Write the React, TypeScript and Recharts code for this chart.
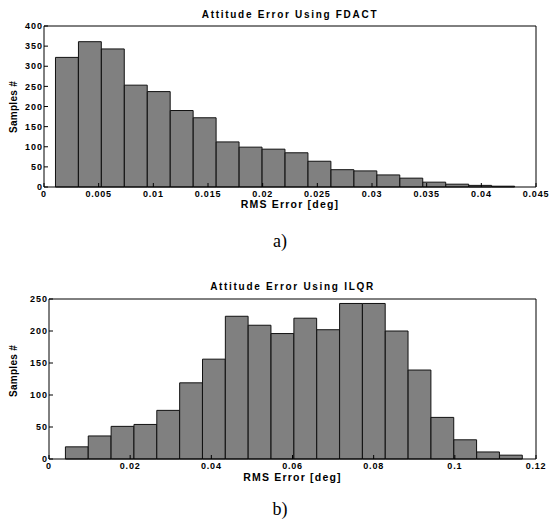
import { BarChart, Bar, XAxis, YAxis, Label } from 'recharts'

// Histogram a) — FDACT
const fdactBins = [
  0.0021, 0.0042, 0.0063, 0.0084, 0.0105, 0.0126, 0.0147, 0.0168, 0.0189, 0.021,
  0.0231, 0.0252, 0.0273, 0.0294, 0.0315, 0.0336, 0.0357, 0.0378, 0.0399, 0.042,
]
const fdactCounts = [322, 361, 343, 253, 237, 190, 172, 112, 99, 94, 85, 64, 43, 40, 30, 22, 12, 7, 4, 2]
const fdactXTicks = [0, 0.005, 0.01, 0.015, 0.02, 0.025, 0.03, 0.035, 0.04, 0.045]
const fdactYTicks = [0, 50, 100, 150, 200, 250, 300, 350, 400]

// Histogram b) — ILQR
const ilqrBins = [
  0.00686, 0.01249, 0.01812, 0.02375, 0.02938, 0.03501, 0.04064, 0.04627, 0.0519, 0.05753,
  0.06316, 0.06879, 0.07442, 0.08005, 0.08568, 0.09131, 0.09694, 0.10257, 0.1082, 0.11383,
]
const ilqrCounts = [19, 36, 51, 54, 76, 119, 156, 223, 209, 196, 220, 202, 243, 243, 200, 139, 65, 30, 11, 6]
const ilqrXTicks = [0, 0.02, 0.04, 0.06, 0.08, 0.1, 0.12]
const ilqrYTicks = [0, 50, 100, 150, 200, 250]

const font = '"Liberation Sans", Arial, sans-serif'
const yTickStyle = { fontSize: 9, fontWeight: 700, fill: '#000', fontFamily: font, letterSpacing: 1 }
const xTickStyle = { ...yTickStyle, letterSpacing: 0.8 }

type HistProps = {
  bins: number[]
  counts: number[]
  xTicks: number[]
  yTicks: number[]
  height: number
  margin: { top: number; right: number; left: number; bottom: number }
  yAxisWidth: number
  xAxisHeight: number
  labelOffset: number
}

function Histogram(p: HistProps) {
  const width = 549
  const data = p.bins.map((x, i) => ({ x, n: p.counts[i] }))
  const xMax = p.xTicks[p.xTicks.length - 1]
  const plotW = width - p.margin.left - p.margin.right - p.yAxisWidth - 1
  // bar width = one bin in pixels (a hair less so recharts keeps it)
  const barSize = ((p.bins[1] - p.bins[0]) / xMax) * plotW - 0.1
  const yMax = p.yTicks[p.yTicks.length - 1]
  return (
    <BarChart width={width} height={p.height} data={data} margin={p.margin} barCategoryGap={0}>
      <XAxis
        dataKey="x"
        type="number"
        domain={[0, xMax]}
        ticks={p.xTicks}
        height={p.xAxisHeight}
        tickSize={-4}
        tickMargin={8}
        tick={xTickStyle}
        stroke="#000"
        interval={0}
      >
        <Label
          value="RMS Error  [deg]"
          position="insideBottom"
          offset={p.labelOffset}
          style={{ fontSize: 10.5, fontWeight: 700, fill: '#000', fontFamily: font, whiteSpace: 'pre', letterSpacing: 1.2 }}
        />
      </XAxis>
      <XAxis
        xAxisId="top"
        orientation="top"
        dataKey="x"
        type="number"
        domain={[0, xMax]}
        ticks={p.xTicks}
        height={1}
        tickSize={-4}
        tick={false}
        stroke="#000"
        interval={0}
      />
      <YAxis
        type="number"
        domain={[0, yMax]}
        ticks={p.yTicks}
        width={p.yAxisWidth}
        tickSize={-4}
        tickMargin={5}
        tick={yTickStyle}
        stroke="#000"
        interval={0}
      />
      <YAxis
        yAxisId="right"
        orientation="right"
        type="number"
        domain={[0, yMax]}
        ticks={p.yTicks}
        width={1}
        tickSize={-4}
        tick={false}
        stroke="#000"
        interval={0}
      />
      <Bar dataKey="n" fill="#808080" stroke="#111" strokeWidth={1} barSize={barSize} isAnimationActive={false} />
    </BarChart>
  )
}

const titleStyle = {
  position: 'absolute' as const,
  fontFamily: font,
  fontWeight: 700,
  fontSize: 10,
  letterSpacing: 1.7,
  textAlign: 'center' as const,
  lineHeight: '12px',
  color: '#000',
  whiteSpace: 'nowrap' as const,
}
const yLabelStyle = {
  position: 'absolute' as const,
  fontFamily: font,
  fontWeight: 700,
  fontSize: 10,
  letterSpacing: 0.3,
  lineHeight: '12px',
  color: '#000',
  whiteSpace: 'nowrap' as const,
  transform: 'translate(-50%, -50%) rotate(-90deg)',
}
const captionStyle = {
  position: 'absolute' as const,
  fontFamily: '"Liberation Serif", "DejaVu Serif", serif',
  fontSize: 18,
  lineHeight: '18px',
  textAlign: 'center' as const,
  width: 60,
  color: '#000',
}

export default function App() {
  return (
    <div style={{ position: 'absolute', left: 0, top: 0, width: 549, height: 523, background: '#fff' }}>
      <div style={{ ...titleStyle, left: 44, width: 492, top: 9 }}>Attitude Error Using FDACT</div>
      <div style={{ position: 'absolute', left: 0, top: 0 }}>
        <Histogram
          bins={fdactBins}
          counts={fdactCounts}
          xTicks={fdactXTicks}
          yTicks={fdactYTicks}
          height={220}
          margin={{ top: 25, right: 12, left: 0, bottom: 0 }}
          yAxisWidth={44}
          xAxisHeight={33}
          labelOffset={12}
        />
      </div>
      <div style={{ ...yLabelStyle, left: 13.5, top: 106.5 }}>Samples #</div>
      <div style={{ ...captionStyle, left: 250, top: 232 }}>a)</div>

      <div style={{ ...titleStyle, left: 49, width: 487, top: 281 }}>Attitude Error Using ILQR</div>
      <div style={{ position: 'absolute', left: 0, top: 270 }}>
        <Histogram
          bins={ilqrBins}
          counts={ilqrCounts}
          xTicks={ilqrXTicks}
          yTicks={ilqrYTicks}
          height={225}
          margin={{ top: 28, right: 12, left: 0, bottom: 0 }}
          yAxisWidth={49}
          xAxisHeight={36}
          labelOffset={14}
        />
      </div>
      <div style={{ ...yLabelStyle, left: 13.8, top: 371 }}>Samples #</div>
      <div style={{ ...captionStyle, left: 250, top: 500 }}>b)</div>
    </div>
  )
}
